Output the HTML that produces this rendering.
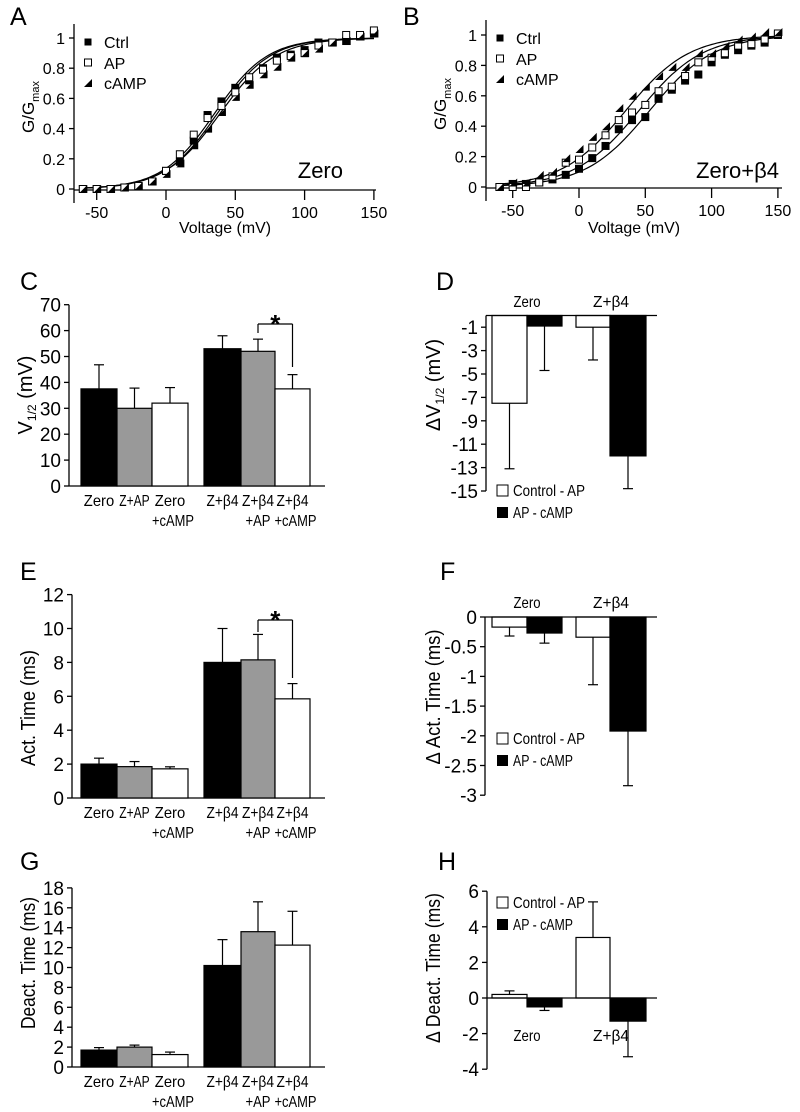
<!DOCTYPE html>
<html><head><meta charset="utf-8"><style>
html,body{margin:0;padding:0;background:#fff;}
svg{display:block;font-family:"Liberation Sans",Arial,sans-serif;}
</style></head><body>
<svg id="fig" width="800" height="1112" viewBox="0 0 800 1112" xmlns="http://www.w3.org/2000/svg"></svg>
<script>
// ---------- Panel A / B data ----------
const voltages = [-60,-50,-40,-30,-20,-10,0,10,20,30,40,50,60,70,80,90,100,110,120,130,140,150];
const aCtrl = [0,0,0,0.01,0.02,0.05,0.12,0.18,0.32,0.49,0.58,0.67,0.72,0.80,0.87,0.89,0.92,0.97,0.97,0.98,1.01,1.03];
const aAP   = [0,0,0,0.01,0.02,0.05,0.12,0.23,0.36,0.47,0.55,0.64,0.74,0.79,0.85,0.88,0.90,0.95,0.97,1.02,1.02,1.05];
const aCAMP = [0,0,0,0.01,0.02,0.05,0.10,0.17,0.29,0.40,0.51,0.61,0.69,0.76,0.81,0.87,0.90,0.93,0.97,0.98,1.01,1.03];
const aFitVh = [37,35,39];
const aFitK = [19,19,20];
const bCtrl = [0,0.02,0.02,0.03,0.05,0.08,0.12,0.19,0.27,0.38,0.44,0.46,0.58,0.64,0.70,0.74,0.82,0.87,0.90,0.93,0.95,1.0];
const bAP   = [0,0,0,0.03,0.07,0.16,0.18,0.26,0.34,0.44,0.49,0.54,0.63,0.66,0.73,0.82,0.85,0.88,0.93,0.94,0.97,1.01];
const bCAMP = [0,0.03,0.03,0.08,0.10,0.19,0.25,0.33,0.40,0.52,0.60,0.66,0.73,0.79,0.79,0.88,0.88,0.93,0.97,0.99,1.02,1.02];
const bFitVh = [53,45,35];
const bFitK = [24,24,24];
const gTicks = [0,0.2,0.4,0.6,0.8,1];
const gTickLabels = ["0","0.2","0.4","0.6","0.8","1"];
const vTicks = [-50,0,50,100,150];
// ---------- Bar panels data ----------
const groupLabels1 = ["Zero","Z+AP","Zero","Z+β4","Z+β4","Z+β4"];
const groupLabels2 = ["","","+cAMP","","+AP","+cAMP"];
const cVals = [37.5,30,32,53,52,37.5];
const cErr = [9.3,7.8,6,5,4.7,5.5];
const cTicks = [0,10,20,30,40,50,60,70];
const eVals = [2.0,1.85,1.72,8.0,8.15,5.85];
const eErr = [0.35,0.3,0.12,2.0,1.5,0.9];
const eTicks = [0,2,4,6,8,10,12];
const gVals = [1.7,2.0,1.25,10.2,13.6,12.25];
const gErr = [0.25,0.2,0.25,2.6,3.0,3.4];
const gdTicks = [0,2,4,6,8,10,12,14,16,18];
const diffGroups = ["Zero","Z+β4"];
const dCtrlAP = [-7.5,-1.0];
const dCtrlAPErr = [5.6,2.8];
const dAPcAMP = [-0.9,-12.0];
const dAPcAMPErr = [3.8,2.8];
const dTicks = [-1,-3,-5,-7,-9,-11,-13,-15];
const fCtrlAP = [-0.17,-0.34];
const fCtrlAPErr = [0.15,0.8];
const fAPcAMP = [-0.27,-1.92];
const fAPcAMPErr = [0.17,0.92];
const fTicks = [0,-0.5,-1,-1.5,-2,-2.5,-3];
const fTickLabels = ["0","-0.5","-1","-1.5","-2","-2.5","-3"];
const hCtrlAP = [0.2,3.4];
const hCtrlAPErr = [0.2,2.0];
const hAPcAMP = [-0.5,-1.3];
const hAPcAMPErr = [0.2,2.0];
const hTicks = [6,4,2,0,-2,-4];

const NS="http://www.w3.org/2000/svg";
const svg=document.getElementById('fig');
function el(tag,attrs,parent,txt){const e=document.createElementNS(NS,tag);for(const k in attrs)e.setAttribute(k,attrs[k]);if(txt!==undefined)e.textContent=txt;(parent||svg).appendChild(e);return e;}
function grp(name){const g=el('g',{});return g;}
function line(g,x1,y1,x2,y2,w){return el('line',{x1,y1,x2,y2,stroke:'#000','stroke-width':w||1.3},g);}
function text(g,x,y,s,size,anchor,extra){const a=Object.assign({x,y,'font-size':size,'text-anchor':anchor||'middle',fill:'#000'},extra||{});return el('text',a,g,s);}
function ntext(g,x,y,s,size,anchor,len){const t=text(g,x,y,s,size,anchor);t.setAttribute('textLength',len);t.setAttribute('lengthAdjust','spacingAndGlyphs');return t;}

function panelLabel(s,x,y){const t=text(svg,x,y,s,25,'start');}

// ---------- GV panels ----------
function gvPanel(id,cfg,ctrl,ap,camp,vh,k){
  const g=grp('gv-panel-'+id);
  const xs=v=>cfg.x0+v*cfg.px; const ys=y=>cfg.y0-y*(cfg.y0-cfg.y1);
  const axisY=cfg.y0+1;
  line(g,cfg.ax,cfg.ytop,cfg.ax,axisY+13);
  line(g,cfg.ax,axisY,cfg.xend,axisY);
  gTicks.forEach((t,i)=>{line(g,cfg.ax-5,ys(t),cfg.ax,ys(t));text(g,cfg.ax-9,ys(t)+6,gTickLabels[i],16,'end');});
  vTicks.forEach(t=>{line(g,xs(t),axisY,xs(t),axisY+10);text(g,xs(t),axisY+28,String(t),16);});
  const xt=ntext(g,(cfg.ax+cfg.xend)/2,233,'Voltage (mV)',16,'middle',92);
  
  const yt=el('text',{transform:`translate(${cfg.ax-40},${(cfg.ytop+axisY)/2}) rotate(-90)`,'font-size':17,'text-anchor':'middle'},g);
  
  el('tspan',{},yt,'G/G');el('tspan',{'font-size':11,dy:5},yt,'max');
  [0,1,2].forEach(i=>{let d='';for(let v=-60;v<=150;v+=2){const y=1/(1+Math.exp((vh[i]-v)/k[i]));d+=(v===-60?'M':'L')+xs(v).toFixed(1)+','+ys(y).toFixed(1);}
    const p=el('path',{d,fill:'none',stroke:'#000','stroke-width':1.2},g);});
  function sq(x,y,fill,name){const r=el('rect',{x:x-3.5,y:y-3.5,width:7,height:7,fill,stroke:'#000','stroke-width':1},g);}
  function tri(x,y,name){const p=el('polygon',{points:`${x-4},${y+4} ${x+4},${y+4} ${x+4},${y-4}`,fill:'#000'},g);}
  voltages.forEach((v,i)=>{sq(xs(v),ys(ctrl[i]),'#000','ctrl-point');});
  voltages.forEach((v,i)=>{sq(xs(v),ys(ap[i]),'#fff','ap-point');});
  voltages.forEach((v,i)=>{tri(xs(v)+0.5,ys(camp[i]),'camp-point');});
  const lg=el('g',{},g);
  const lx=cfg.ax+14, ly=cfg.ytop+18;
  el('rect',{x:lx-3.5,y:ly-3.5,width:7,height:7,fill:'#000'},lg);text(lg,lx+16,ly+6,'Ctrl',16,'start');
  el('rect',{x:lx-3.5,y:ly+17,width:7,height:7,fill:'#fff',stroke:'#000'},lg);text(lg,lx+16,ly+27,'AP',16,'start');
  el('polygon',{points:`${lx-4},${ly+45} ${lx+4},${ly+45} ${lx+4},${ly+37}`,fill:'#000'},lg);text(lg,lx+16,ly+47,'cAMP',16,'start');
  const nm=text(g,cfg.nameX,cfg.nameY,cfg.name,22,'end');
}
gvPanel('a',{ax:74,x0:166,px:1.386,y0:189,y1:38,ytop:24,xend:376,name:'Zero',nameX:343,nameY:178},aCtrl,aAP,aCAMP,aFitVh,aFitK);
gvPanel('b',{ax:486,x0:579,px:1.326,y0:187,y1:35,ytop:20,xend:782,name:'Zero+β4',nameX:779,nameY:178},bCtrl,bAP,bCAMP,bFitVh,bFitK);
panelLabel('A',10,25);panelLabel('B',403,25);

// ---------- grouped bar panels ----------
const barFills=['#000','#999','#fff'];
const barX=[[81,117],[117,152],[152,188],[204,241],[241,275],[275,310]];
function lab(s){return s.length*7.6;}
function barPanel(id,cfg,vals,errs,ticks,title,titleLen,sig){
  const g=grp('bar-panel-'+id);
  const ys=v=>cfg.y0-v*cfg.py;
  line(g,cfg.ax,ys(ticks[ticks.length-1]),cfg.ax,cfg.y0);
  line(g,cfg.ax,cfg.y0,325,cfg.y0);
  ticks.forEach(t=>{line(g,cfg.ax-5,ys(t),cfg.ax,ys(t));text(g,cfg.ax-8,ys(t)+7,String(t),19,'end');});
  vals.forEach((v,i)=>{const [x1,x2]=barX[i];const cx=(x1+x2)/2;
    const top=ys(v+errs[i]);line(g,cx,ys(v),cx,top,1.2);line(g,cx-5,top,cx+5,top,1.2);
    const r=el('rect',{x:x1,y:ys(v),width:x2-x1,height:cfg.y0-ys(v),fill:barFills[i%3],stroke:'#000','stroke-width':1.2},g);
    
    ntext(g,cx,cfg.y0+20,groupLabels1[i],16,'middle',groupLabels1[i]==='Z+β4'?32:lab(groupLabels1[i]));
    if(groupLabels2[i])ntext(g,cx+(groupLabels2[i]==='+cAMP'?3:0),cfg.y0+40,groupLabels2[i],16,'middle',groupLabels2[i]==='+AP'?25:42);
  });
  const yt=text(g,0,0,'',20,'middle',{transform:`translate(${cfg.tx},${cfg.ty}) rotate(-90)`});
  
  if(Array.isArray(title)){el('tspan',{},yt,title[0]);el('tspan',{'font-size':12,dy:4},yt,title[1]);el('tspan',{dy:-4},yt,title[2]);}
  else{yt.textContent=title;yt.setAttribute('textLength',titleLen);yt.setAttribute('lengthAdjust','spacingAndGlyphs');}
  if(sig){const c5=(barX[4][0]+barX[4][1])/2,c6=(barX[5][0]+barX[5][1])/2;
    const bg=el('g',{},g);
    line(bg,c5,sig.top,c6,sig.top,1.2);line(bg,c5,sig.top,c5,sig.l,1.2);line(bg,c6,sig.top,c6,sig.r,1.2);
    text(bg,(c5+c6)/2,sig.top+9,'*',26,'middle',{'font-weight':'bold'});}
}
barPanel('c',{ax:69,y0:486,py:2.59,tx:32,ty:395},cVals,cErr,cTicks,['V','1/2',' (mV)'],0,{top:324,l:333,r:367});
barPanel('e',{ax:72,y0:798,py:16.95,tx:35,ty:708},eVals,eErr,eTicks,'Act. Time (ms)',116,{top:620,l:632,r:678});
barPanel('g',{ax:72,y0:1067,py:9.95,tx:35,ty:963},gVals,gErr,gdTicks,'Deact. Time (ms)',132,null);
panelLabel('C',20,290);panelLabel('E',20,580);panelLabel('G',20,870);

// ---------- difference panels ----------
const diffX=[[[492,527],[527,562]],[[576,610],[610,646]]];
function diffPanel(id,cfg,a,ae,b,be,ticks,tickLabels,title,titleLen,legY,labY){
  const g=grp('diff-panel-'+id);
  const ys=v=>cfg.y0-v*cfg.py;
  const tmin=Math.min(...ticks),tmax=Math.max(...ticks,0);
  line(g,cfg.ax,ys(tmax),cfg.ax,ys(tmin));
  ticks.forEach((t,i)=>{line(g,cfg.ax-5,ys(t),cfg.ax,ys(t));text(g,cfg.ax-8,ys(t)+7,tickLabels?tickLabels[i]:String(t),19,'end');});
  [[a,ae,'#fff','ctrl-ap'],[b,be,'#000','ap-camp']].forEach((s,si)=>{
    s[0].forEach((v,gi)=>{const [x1,x2]=diffX[gi][si];const cx=(x1+x2)/2;const e=v>=0?v+s[1][gi]:v-s[1][gi];
      line(g,cx,ys(v),cx,ys(e),1.2);line(g,cx-5,ys(e),cx+5,ys(e),1.2);
      const r=el('rect',{x:x1,y:Math.min(ys(v),ys(0)),width:x2-x1,height:Math.abs(ys(v)-ys(0)),fill:s[2],stroke:'#000','stroke-width':1.2},g);
      });
  });
  line(g,cfg.ax,ys(0),657,ys(0));
  diffGroups.forEach((n,gi)=>{ntext(g,(diffX[gi][0][0]+diffX[gi][1][1])/2,labY,n,16,'middle',n==='Zero'?27:36);});
  const lg=el('g',{},g);
  el('rect',{x:497,y:legY-11,width:11,height:11,fill:'#fff',stroke:'#000'},lg);ntext(lg,513,legY,'Control - AP',16,'start',72);
  el('rect',{x:497,y:legY+11,width:11,height:11,fill:'#000'},lg);ntext(lg,513,legY+22,'AP - cAMP',16,'start',60);
  const yt=text(g,0,0,'',20,'middle',{transform:`translate(${cfg.tx},${cfg.ty}) rotate(-90)`});
  
  if(Array.isArray(title)){el('tspan',{},yt,title[0]);el('tspan',{'font-size':12,dy:4},yt,title[1]);el('tspan',{dy:-4},yt,title[2]);}
  else{yt.textContent=title;yt.setAttribute('textLength',titleLen);yt.setAttribute('lengthAdjust','spacingAndGlyphs');}
}
diffPanel('d',{ax:486,y0:315.5,py:11.7,tx:440,ty:385},dCtrlAP,dCtrlAPErr,dAPcAMP,dAPcAMPErr,dTicks,null,['ΔV','1/2',' (mV)'],0,496,307);
diffPanel('f',{ax:485,y0:617,py:59.4,tx:440,ty:697},fCtrlAP,fCtrlAPErr,fAPcAMP,fAPcAMPErr,fTicks,fTickLabels,'Δ Act. Time (ms)',135,744,608);
diffPanel('h',{ax:487,y0:998,py:17.8,tx:440,ty:968},hCtrlAP,hCtrlAPErr,hAPcAMP,hAPcAMPErr,hTicks,null,'Δ Deact. Time (ms)',150,908,1041);
panelLabel('D',436,290);panelLabel('F',440,580);panelLabel('H',438,870);
</script>
</body></html>
